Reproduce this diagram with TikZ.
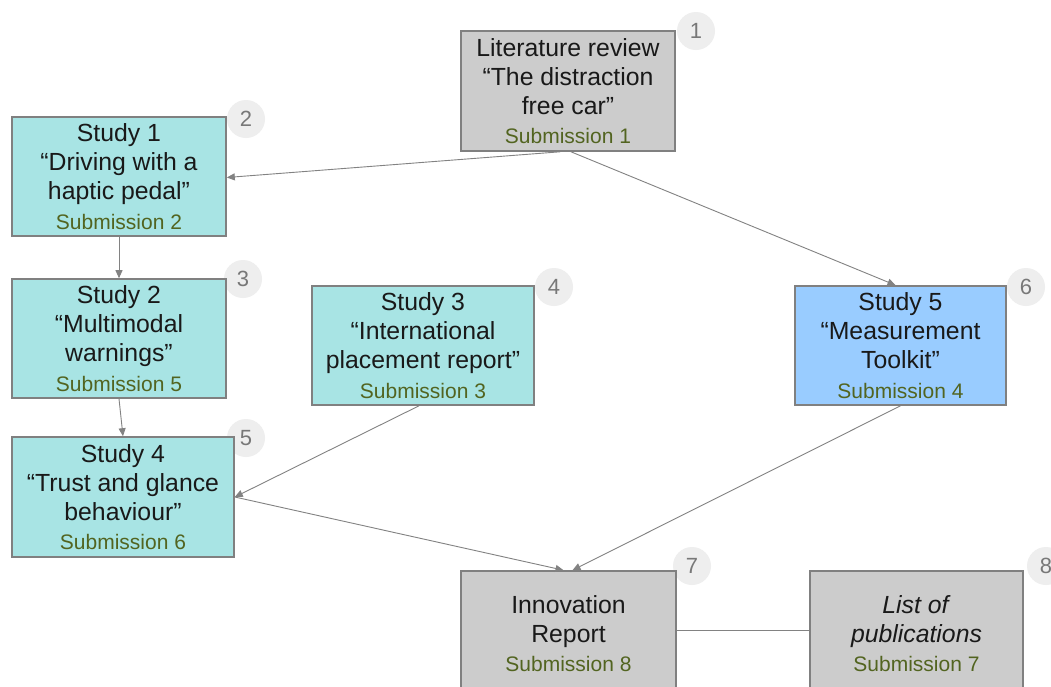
\documentclass[tikz,border=0pt]{standalone}
\usepackage{fontspec}
\setmainfont{Liberation Sans}
\usetikzlibrary{arrows.meta}
\definecolor{boxgray}{RGB}{204,204,204}
\definecolor{boxteal}{RGB}{168,228,228}
\definecolor{boxblue}{RGB}{153,204,255}
\definecolor{edgegray}{RGB}{128,128,128}
\definecolor{subcol}{RGB}{82,100,32}
\definecolor{badgefill}{RGB}{238,238,238}
\definecolor{badgetext}{RGB}{120,120,120}
\definecolor{linegray}{RGB}{130,130,130}
\newcommand{\subm}[1]{{\fontsize{21}{24}\selectfont\color{subcol}#1}}
\tikzset{
  box/.style={draw=edgegray, line width=1.6pt, inner sep=0pt, align=center,
    font=\fontsize{24.8}{29.2}\selectfont, text=black!90},
  badge/.style={circle, fill=badgefill, minimum size=38pt, inner sep=0pt,
    text=badgetext, font=\fontsize{22}{24}\selectfont},
  conn/.style={draw=linegray, line width=0.9pt, -{Triangle[length=8pt,width=7pt]}},
  link/.style={draw=linegray, line width=0.9pt}
}
\begin{document}
\begin{tikzpicture}[x=1pt,y=-1pt]
\clip (0,0) rectangle (1051,686);
\fill[white] (0,0) rectangle (1051,686);
% badges
\node[badge] (n1) at (696,31) {1};
\node[badge] (n2) at (246,119) {2};
\node[badge] (n3) at (243,279) {3};
\node[badge] (n4) at (554,287) {4};
\node[badge] (n6) at (1026,287) {6};
\node[badge] (n5) at (246,438) {5};
\node[badge] (n7) at (692,566) {7};
\node[badge] (n8) at (1046,566) {8};
% boxes
\node[box, fill=boxgray, minimum width=214pt, minimum height=120pt] (b1) at (568,91)
  {\raisebox{0pt}{}Literature review\\“The distraction\\free car”\\\subm{Submission 1}};
\node[box, fill=boxteal, minimum width=214pt, minimum height=119pt] (b2) at (119,176.5)
  {Study 1\\“Driving with a\\haptic pedal”\\\subm{Submission 2}};
\node[box, fill=boxteal, minimum width=214pt, minimum height=119pt] (b3) at (119,338.5)
  {Study 2\\“Multimodal\\warnings”\\\subm{Submission 5}};
\node[box, fill=boxteal, minimum width=222pt, minimum height=119pt] (b4) at (423,345.5)
  {Study 3\\“International\\placement report”\\\subm{Submission 3}};
\node[box, fill=boxblue, minimum width=211pt, minimum height=119pt] (b6) at (900.5,345.5)
  {Study 5\\“Measurement\\Toolkit”\\\subm{Submission 4}};
\node[box, fill=boxteal, minimum width=222pt, minimum height=120pt] (b5) at (123,497)
  {Study 4\\“Trust and glance\\behaviour”\\\subm{Submission 6}};
\node[box, fill=boxgray, minimum width=215pt, minimum height=125pt] (b7) at (568.5,633.5)
  {Innovation\\Report\\\subm{Submission 8}};
\node[box, fill=boxgray, minimum width=213pt, minimum height=125pt] (b8) at (916.5,633.5)
  {\textit{List of}\\\textit{publications}\\\subm{Submission 7}};
% connectors
\draw[conn] ([xshift=-8pt]b1.south) -- ([yshift=-1pt]b2.east);
\draw[conn] ([xshift=3pt]b1.south) -- ([xshift=-5pt]b6.north);
\draw[conn] (b2.south) -- (b3.north);
\draw[conn] (b3.south) -- (b5.north);
\draw[conn] ([xshift=-4pt]b4.south) -- (b5.east);
\draw[conn] (b5.east) -- ([xshift=-5pt]b7.north);
\draw[conn] (b6.south) -- ([xshift=4pt]b7.north);
\draw[link] ([yshift=3pt]b7.east) -- ([yshift=3pt]b8.west);
\end{tikzpicture}
\end{document}
